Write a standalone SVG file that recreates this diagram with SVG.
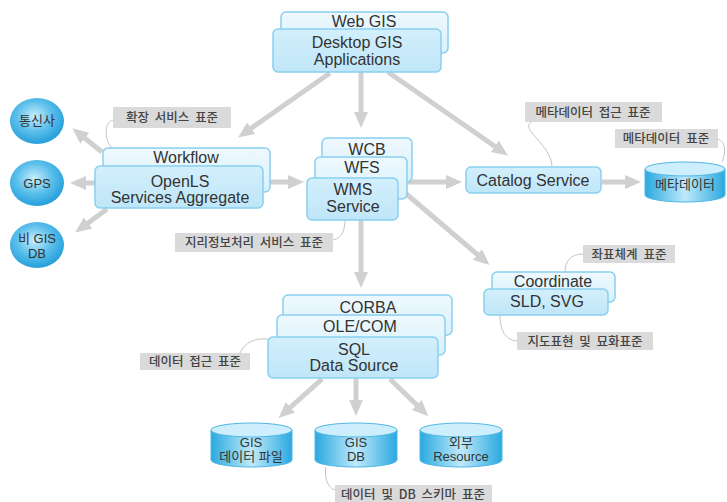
<svg xmlns="http://www.w3.org/2000/svg" width="727" height="502" viewBox="0 0 727 502">
<defs>
<linearGradient id="gFront" x1="0" y1="0" x2="0" y2="1"><stop offset="0" stop-color="#d3effc"/><stop offset="1" stop-color="#bfe6f8"/></linearGradient>
<linearGradient id="gBack" x1="0" y1="0" x2="0" y2="1"><stop offset="0" stop-color="#eef9fe"/><stop offset="1" stop-color="#d9f1fc"/></linearGradient>
<linearGradient id="gCyl" x1="0" y1="0" x2="1" y2="0"><stop offset="0" stop-color="#2aa9e0"/><stop offset="0.5" stop-color="#bfe9fa"/><stop offset="1" stop-color="#2aa9e0"/></linearGradient>
<radialGradient id="gSph" cx="0.45" cy="0.4" r="0.6"><stop offset="0" stop-color="#c8eefc"/><stop offset="0.55" stop-color="#5bbfeb"/><stop offset="1" stop-color="#259fdb"/></radialGradient>
<marker id="ah" viewBox="0 0 16 14" refX="10" refY="7" markerWidth="16" markerHeight="14" markerUnits="userSpaceOnUse" orient="auto"><path d="M0,0 L16,7 L0,14 Z" fill="#d0d0d0"/></marker>
<style>
.box{stroke:#8ad0f0;stroke-width:1.5}
.front{fill:url(#gFront)}
.back{fill:url(#gBack)}
.t{font-family:"Liberation Sans","Noto Sans CJK KR",sans-serif;font-size:16px;fill:#333;text-anchor:middle}
.s{font-family:"Liberation Sans","Noto Sans CJK KR",sans-serif;font-size:13px;fill:#333;text-anchor:middle}
.lb{fill:#dadada}
.lt{font-family:"Noto Sans CJK KR","Liberation Sans",sans-serif;font-size:12.5px;font-weight:500;fill:#444;text-anchor:middle;word-spacing:3px}
.arr{stroke:#d0d0d0;stroke-width:5;fill:none;marker-end:url(#ah)}
.cv{stroke:#c4c4c4;stroke-width:1;fill:none}
.cyl{fill:url(#gCyl);stroke:#4fb7e4;stroke-width:1}
.cyltop{fill:#cdeefc;stroke:#4fb7e4;stroke-width:1}
.sph{fill:url(#gSph)}
</style>
</defs>
<rect width="727" height="502" fill="#ffffff"/>

<g id="connectors">
<line class="arr" x1="330" y1="73" x2="243" y2="134"/>
<line class="arr" x1="361" y1="72" x2="361" y2="122"/>
<line class="arr" x1="388" y1="72" x2="503" y2="152"/>
<line class="arr" x1="102" y1="152" x2="77" y2="132"/>
<line class="arr" x1="95" y1="183" x2="76" y2="183"/>
<line class="arr" x1="107" y1="209" x2="80" y2="229"/>
<line class="arr" x1="264" y1="182" x2="298" y2="182"/>
<line class="arr" x1="407" y1="182" x2="456" y2="182"/>
<line class="arr" x1="404" y1="192" x2="485" y2="261"/>
<line class="arr" x1="361" y1="220" x2="361" y2="282"/>
<line class="arr" x1="602" y1="182" x2="635" y2="182"/>
<line class="arr" x1="322" y1="379" x2="283" y2="414"/>
<line class="arr" x1="356" y1="378" x2="356" y2="410"/>
<line class="arr" x1="390" y1="379" x2="424" y2="412"/>
<path class="cv" d="M113,120 C104,122 104,140 112,148"/>
<path class="cv" d="M333,240 C342,238 345,230 345,220"/>
<path class="cv" d="M531,122 C520,130 552,145 552,167"/>
<path class="cv" d="M718,139 C726,142 726,152 722,162"/>
<path class="cv" d="M583,254 C570,254 565,262 565,272"/>
<path class="cv" d="M500,315 C500,330 505,340 517,341"/>
<path class="cv" d="M240,353 C245,342 255,338 268,339"/>
<path class="cv" d="M326,467 C324,478 328,488 335,490"/>
</g>

<g id="apps">
<rect class="box back" x="281" y="12" width="167" height="41" rx="5"/>
<text class="t" x="364" y="27">Web GIS</text>
<rect class="box front" x="273" y="29" width="168" height="43" rx="5"/>
<text class="t" x="357" y="48">Desktop GIS</text>
<text class="t" x="357" y="65">Applications</text>
</g>

<g id="openls">
<rect class="box back" x="103" y="148" width="167" height="44" rx="5"/>
<text class="t" x="186" y="163">Workflow</text>
<rect class="box front" x="95" y="166" width="168" height="42" rx="5"/>
<text class="t" x="180" y="186.5">OpenLS</text>
<text class="t" x="180" y="203">Services Aggregate</text>
</g>

<g id="wms">
<rect class="box back" x="322" y="138" width="90" height="44" rx="5"/>
<text class="t" x="367" y="155">WCB</text>
<rect class="box back" x="315" y="157" width="92" height="42" rx="5"/>
<text class="t" x="362" y="173">WFS</text>
<rect class="box front" x="307" y="178" width="91" height="42" rx="5"/>
<text class="t" x="353" y="195">WMS</text>
<text class="t" x="353" y="212">Service</text>
</g>

<g id="catalog">
<rect class="box front" x="466" y="167" width="135" height="26" rx="5"/>
<text class="t" x="533" y="186">Catalog Service</text>
</g>

<g id="metadata">
<path class="cyl" d="M645,169 L645,195 A40,7 0 0 0 725,195 L725,169 Z"/>
<ellipse class="cyltop" cx="685" cy="169" rx="40" ry="7"/>
<text class="s" x="685" y="189">메타데이터</text>
</g>

<g id="coordinate">
<rect class="box back" x="492" y="272" width="123" height="30" rx="5"/>
<text class="t" x="553" y="287">Coordinate</text>
<rect class="box front" x="484" y="289" width="124" height="26" rx="5"/>
<text class="t" x="547" y="307">SLD, SVG</text>
</g>

<g id="datasource">
<rect class="box back" x="283" y="295" width="169" height="40" rx="5"/>
<text class="t" x="368" y="313">CORBA</text>
<rect class="box back" x="277" y="315" width="168" height="40" rx="5"/>
<text class="t" x="360" y="332">OLE/COM</text>
<rect class="box front" x="268" y="337" width="170" height="41" rx="5"/>
<text class="t" x="354" y="355">SQL</text>
<text class="t" x="354" y="371">Data Source</text>
</g>

<g id="telecom">
<ellipse class="sph" cx="37" cy="121" rx="27" ry="23"/>
<text class="s" x="37" y="125">통신사</text>
</g>
<g id="gps">
<ellipse class="sph" cx="37" cy="183" rx="27" ry="23"/>
<text class="s" x="37" y="188">GPS</text>
</g>
<g id="nongis">
<ellipse class="sph" cx="37" cy="245" rx="27" ry="23"/>
<text class="s" x="37" y="243">비 GIS</text>
<text class="s" x="37" y="258">DB</text>
</g>

<g id="gisfile">
<path class="cyl" d="M211,430 L211,460 A40.5,7 0 0 0 292,460 L292,430 Z"/>
<ellipse class="cyltop" cx="251.5" cy="430" rx="40.5" ry="7"/>
<text class="s" x="251" y="447">GIS</text>
<text class="s" x="251" y="461">데이터 파일</text>
</g>
<g id="gisdb">
<path class="cyl" d="M315,430 L315,460 A41,7 0 0 0 397,460 L397,430 Z"/>
<ellipse class="cyltop" cx="356" cy="430" rx="41" ry="7"/>
<text class="s" x="356" y="447">GIS</text>
<text class="s" x="356" y="461">DB</text>
</g>
<g id="external">
<path class="cyl" d="M420,430 L420,460 A41,7 0 0 0 502,460 L502,430 Z"/>
<ellipse class="cyltop" cx="461" cy="430" rx="41" ry="7"/>
<text class="s" x="461" y="447">외부</text>
<text class="s" x="461" y="461">Resource</text>
</g>

<g id="label-ext">
<rect class="lb" x="113" y="107" width="118" height="21"/>
<text class="lt" x="172" y="122">확장 서비스 표준</text>
</g>
<g id="label-geo">
<rect class="lb" x="175" y="233" width="158" height="19"/>
<text class="lt" x="254" y="247">지리정보처리 서비스 표준</text>
</g>
<g id="label-metaaccess">
<rect class="lb" x="525" y="102" width="137" height="20"/>
<text class="lt" x="593" y="116.5">메타데이터 접근 표준</text>
</g>
<g id="label-meta">
<rect class="lb" x="615" y="129" width="103" height="19"/>
<text class="lt" x="666" y="143">메타데이터 표준</text>
</g>
<g id="label-coord">
<rect class="lb" x="583" y="245" width="92" height="18"/>
<text class="lt" x="629" y="258.5">좌표체계 표준</text>
</g>
<g id="label-map">
<rect class="lb" x="517" y="332" width="136" height="18"/>
<text class="lt" x="585" y="345.5">지도표현 및 묘화표준</text>
</g>
<g id="label-dataaccess">
<rect class="lb" x="140" y="353" width="110" height="17"/>
<text class="lt" x="195" y="366">데이터 접근 표준</text>
</g>
<g id="label-schema">
<rect class="lb" x="335" y="485" width="157" height="17"/>
<text class="lt" x="413" y="498.5">데이터 및 DB 스키마 표준</text>
</g>
</svg>
